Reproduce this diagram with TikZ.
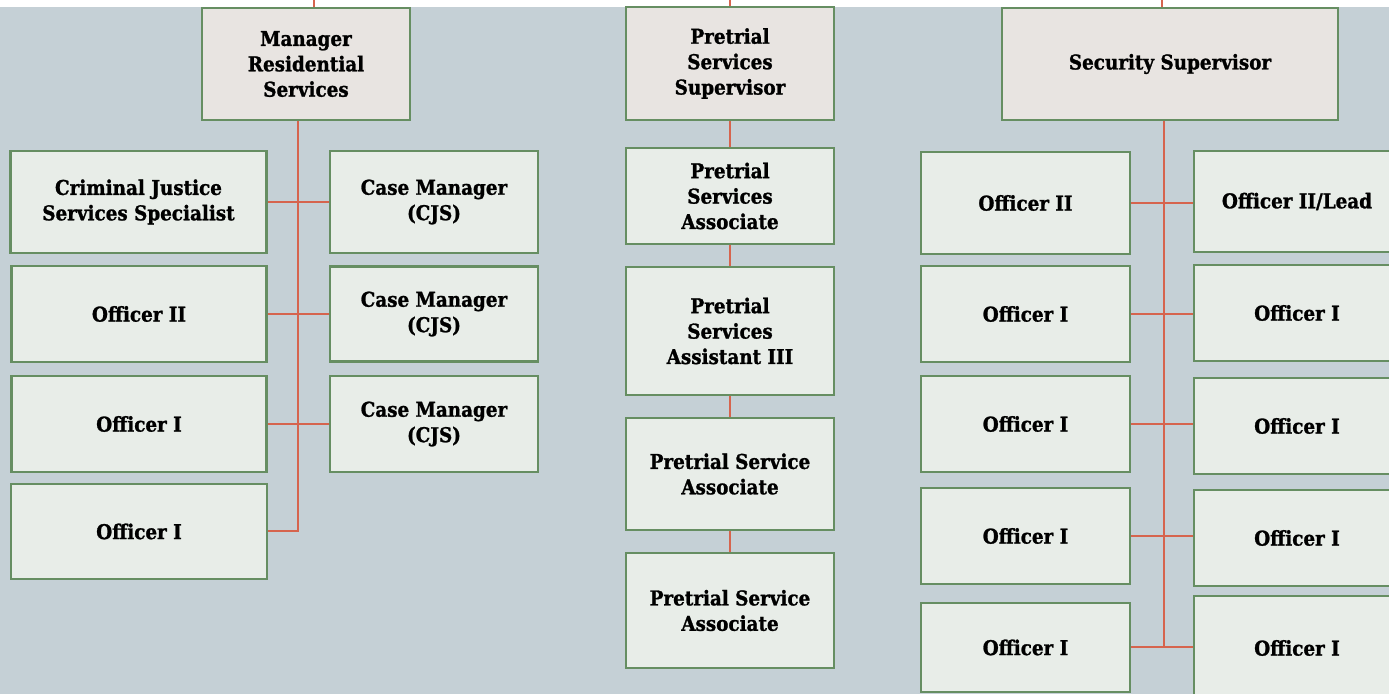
\documentclass[tikz,border=0pt]{standalone}
\usepackage{fontspec}
\setmainfont{DejaVuSerifCondensed-Bold.ttf}[BoldFont=DejaVuSerifCondensed-Bold.ttf,BoldFeatures={FakeBold=1.2}]
\usetikzlibrary{calc,positioning}

\definecolor{bgblue}{RGB}{197,208,214}
\definecolor{boxfill}{RGB}{232,237,232}
\definecolor{headfill}{RGB}{232,228,225}
\definecolor{boxgreen}{RGB}{102,142,98}
\definecolor{linkred}{RGB}{214,100,78}

\begin{document}
\begin{tikzpicture}[x=0.5pt,y=-0.5pt,
    font=\bfseries\fontsize{10.2}{12.7}\selectfont,
    sz/.style 2 args={minimum width=#1*0.5pt,minimum height=#2*0.5pt}]
  \useasboundingbox (0,0) rectangle (1389,694);
  \fill[bgblue] (0,7) rectangle (1389,694);
  \tikzstyle{unit}=[draw=boxgreen, line width=1.1pt, fill=boxfill, align=center, inner sep=0pt]
  \tikzstyle{head}=[unit, fill=headfill]
  \tikzstyle{link}=[draw=linkred, line width=1pt]

  % heads
  \node[head,sz={208}{112}] (mgr) at (306,64) {Manager\\Residential\\Services};
  \node[head,sz={208}{113}] (pss) at (730,63.5) {Pretrial\\Services\\Supervisor};
  \node[head,sz={336}{112}] (sec) at (1170,64) {Security Supervisor};

  % residential services
  \node[unit,sz={256}{102}] (cjs) at (138.5,202) {Criminal Justice\\Services Specialist};
  \node[unit,sz={255}{96}] (lo2) at (139,314) {Officer II};
  \node[unit,sz={255}{96}] (lo1a) at (139,424) {Officer I};
  \node[unit,sz={256}{95}] (lo1b) at (139,531.5) {Officer I};
  \foreach \i/\y/\h in {1/202/102,2/314/95,3/424/96}{
    \node[unit,sz={208}{\h}] (cm\i) at (434,\y) {Case Manager\\(CJS)};
  }

  % pretrial services
  \foreach \i/\y/\h/\t in {1/196/96/{Pretrial\\Services\\Associate},
      2/331/128/{Pretrial\\Services\\Assistant III},
      3/474/112/{Pretrial Service\\Associate},
      4/610.5/115/{Pretrial Service\\Associate}}{
    \node[unit,sz={208}{\h}] (pa\i) at (730,\y) {\t};
  }

  % security
  \foreach \i/\yl/\hl/\yr/\hr/\tl/\tr in {1/203/102/201.5/101/{Officer II}/{Officer II/Lead},
      2/314/96/313/96/{Officer I}/{Officer I},
      3/424/96/426/96/{Officer I}/{Officer I},
      4/536/96/538/96/{Officer I}/{Officer I},
      5/647.5/89/648/104/{Officer I}/{Officer I}}{
    \node[unit,sz={209}{\hl}] (ol\i) at (1025.5,\yl) {\tl};
    \node[unit,sz={206}{\hr}] (or\i) at (1297,\yr) {\tr};
  }

  % connectors
  \coordinate (mgrin) at (314,0);
  \coordinate (pssin) at (730,0);
  \coordinate (secin) at (1162,0);
  \draw[link] (mgrin) -- (mgrin |- mgr.north);
  \draw[link] (pssin) -- (pss.north);
  \draw[link] (secin) -- (secin |- sec.north);

  \coordinate (ltrunk) at (298,531.5);
  \draw[link] (mgr.south -| ltrunk) -- (ltrunk) -- (lo1b.east);
  \draw[link] (cjs.east) -- (cm1.west);
  \draw[link] (lo2.east) -- (cm2.west);
  \draw[link] (lo1a.east) -- (cm3.west);

  \draw[link] (pss.south) -- (pa1.north);
  \foreach \a/\b in {1/2,2/3,3/4}{
    \draw[link] (pa\a.south) -- (pa\b.north);
  }

  \coordinate (rtrunk) at (1164,647.5);
  \draw[link] (sec.south -| rtrunk) -- (rtrunk);
  \foreach \i in {1,...,5}{
    \draw[link] (ol\i.east) -- (ol\i.east -| or\i.west);
  }
\end{tikzpicture}
\end{document}
